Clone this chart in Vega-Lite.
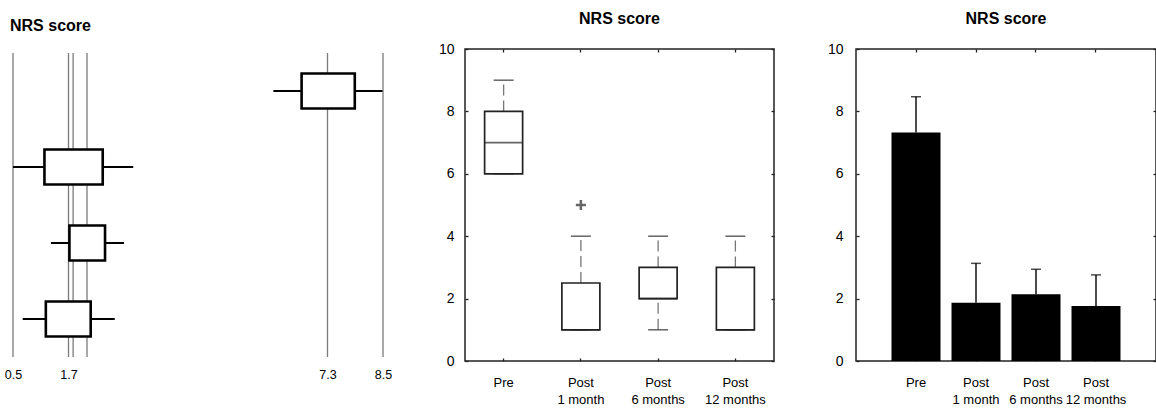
{
  "$schema": "https://vega.github.io/schema/vega-lite/v6.json",
  "background": "white",
  "padding": {"left": 4, "top": 10, "right": 0, "bottom": 0},
  "bounds": "flush",
  "spacing": 82,
  "config": {
    "font": "Liberation Sans, sans-serif",
    "view": {"stroke": null},
    "axis": {
      "labelFont": "Liberation Sans, sans-serif",
      "labelFontSize": 12,
      "labelColor": "#000",
      "grid": false,
      "domain": false,
      "tickColor": "#222",
      "tickWidth": 1.3,
      "title": null
    },
    "title": {
      "font": "Liberation Sans, sans-serif",
      "fontSize": 16,
      "fontWeight": "bold",
      "color": "#000"
    }
  },
  "datasets": {
    "refLines": [
      {"value": 0.5}, {"value": 1.7}, {"value": 1.8}, {"value": 2.1}, {"value": 7.3}, {"value": 8.5}
    ],
    "forest": [
      {"group": "Pre", "lo": 6.13, "q1": 6.74, "q3": 7.89, "hi": 8.49},
      {"group": "Post 1 month", "lo": 0.5, "q1": 1.18, "q3": 2.44, "hi": 3.1},
      {"group": "Post 6 months", "lo": 1.32, "q1": 1.72, "q3": 2.49, "hi": 2.9},
      {"group": "Post 12 months", "lo": 0.71, "q1": 1.21, "q3": 2.18, "hi": 2.7}
    ],
    "box": [
      {"group": "Pre", "lo": 6, "q1": 6, "med": 7, "q3": 8, "hi": 9},
      {"group": "Post 1 month", "lo": 1, "q1": 1, "med": 1, "q3": 2.5, "hi": 4},
      {"group": "Post 6 months", "lo": 1, "q1": 2, "med": 2, "q3": 3, "hi": 4},
      {"group": "Post 12 months", "lo": 1, "q1": 1, "med": 1, "q3": 3, "hi": 4}
    ],
    "outliers": [
      {"group": "Post 1 month", "value": 5}
    ],
    "bars": [
      {"group": "Pre", "mean": 7.32, "upper": 8.47},
      {"group": "Post 1 month", "mean": 1.87, "upper": 3.13},
      {"group": "Post 6 months", "mean": 2.14, "upper": 2.94},
      {"group": "Post 12 months", "mean": 1.76, "upper": 2.76}
    ]
  },
  "hconcat": [
    {
      "title": {"text": "NRS score", "anchor": "start", "frame": "group", "dx": -3, "offset": 15},
      "width": 370,
      "height": 312,
      "layer": [
        {
          "data": {"name": "refLines"},
          "mark": {"type": "rule", "color": "#7a7a7a", "strokeWidth": 1.3},
          "encoding": {
            "x": {
              "field": "value", "type": "quantitative",
              "scale": {"domain": [0.5, 8.5], "nice": false, "zero": false},
              "axis": {"values": [0.5, 1.7, 7.3, 8.5], "format": ".1f", "ticks": false, "labelPadding": 7, "labelFontSize": 12.5, "labelFlush": false, "labelOverlap": false}
            },
            "y": {
              "datum": "Pre", "type": "nominal", "bandPosition": 0,
              "scale": {"domain": ["Pre", "Post 1 month", "Post 6 months", "Post 12 months"], "paddingInner": 0, "paddingOuter": 0.0526},
              "axis": null
            },
            "y2": {"datum": "Post 12 months", "bandPosition": 1}
          }
        },
        {
          "data": {"name": "forest"},
          "mark": {"type": "rule", "color": "#000", "strokeWidth": 2.2},
          "encoding": {
            "x": {"field": "lo", "type": "quantitative"},
            "x2": {"field": "hi"},
            "y": {"field": "group", "type": "nominal", "sort": null, "axis": null}
          }
        },
        {
          "data": {"name": "forest"},
          "mark": {"type": "bar", "height": 35, "fill": "white", "stroke": "#000", "strokeWidth": 2.6},
          "encoding": {
            "x": {"field": "q1", "type": "quantitative"},
            "x2": {"field": "q3"},
            "y": {"field": "group", "type": "nominal", "sort": null, "axis": null}
          }
        }
      ]
    },
    {
      "title": {"text": "NRS score", "offset": 15},
      "width": 309,
      "height": 312,
      "view": {"stroke": "#222", "strokeWidth": 1.5},
      "data": {"name": "box"},
      "resolve": {"axis": {"x": "independent", "y": "independent"}},
      "layer": [
        {
          "mark": {"type": "rule", "color": "#777", "strokeWidth": 1.3, "strokeDash": [11, 5]},
          "encoding": {
            "x": {
              "field": "group", "type": "nominal", "sort": null,
              "scale": {"domain": ["Pre", "Post 1 month", "Post 6 months", "Post 12 months"], "paddingInner": 0, "paddingOuter": 0},
              "axis": {"orient": "bottom", "labelAngle": 0, "tickSize": -3, "labelPadding": 18, "labelLineHeight": 17, "labelFontSize": 13,
                       "labelExpr": "datum.value == 'Pre' ? 'Pre' : ['Post', replace(datum.value, 'Post ', '')]"}
            },
            "y": {
              "field": "q3", "type": "quantitative",
              "scale": {"domain": [0, 10], "nice": false},
              "axis": {"orient": "left", "values": [0, 2, 4, 6, 8, 10], "tickSize": -3, "labelPadding": 14, "labelFontSize": 14}
            },
            "y2": {"field": "hi"}
          }
        },
        {
          "mark": {"type": "rule", "color": "#777", "strokeWidth": 1.3, "strokeDash": [11, 5]},
          "encoding": {
            "x": {"field": "group", "type": "nominal", "sort": null,
                  "axis": {"orient": "top", "labels": false, "tickSize": -3}},
            "y": {"field": "lo", "type": "quantitative",
                  "axis": {"orient": "right", "labels": false, "values": [0, 2, 4, 6, 8, 10], "tickSize": -3}},
            "y2": {"field": "q1"}
          }
        },
        {
          "mark": {"type": "bar", "width": 38, "fill": "white", "stroke": "#222", "strokeWidth": 1.7},
          "encoding": {
            "x": {"field": "group", "type": "nominal", "sort": null, "axis": null},
            "y": {"field": "q1", "type": "quantitative", "axis": null},
            "y2": {"field": "q3"}
          }
        },
        {
          "mark": {"type": "tick", "size": 38, "thickness": 1.6, "color": "#222"},
          "encoding": {
            "x": {"field": "group", "type": "nominal", "sort": null, "axis": null},
            "y": {"field": "med", "type": "quantitative", "axis": null}
          }
        },
        {
          "mark": {"type": "tick", "size": 20, "thickness": 1.5, "color": "#222"},
          "encoding": {
            "x": {"field": "group", "type": "nominal", "sort": null, "axis": null},
            "y": {"field": "hi", "type": "quantitative", "axis": null}
          }
        },
        {
          "mark": {"type": "tick", "size": 20, "thickness": 1.5, "color": "#222"},
          "encoding": {
            "x": {"field": "group", "type": "nominal", "sort": null, "axis": null},
            "y": {"field": "lo", "type": "quantitative", "axis": null}
          }
        },
        {
          "data": {"name": "outliers"},
          "mark": {"type": "point", "shape": "M-1,0L1,0M0,-1L0,1", "filled": false, "stroke": "#666", "strokeWidth": 2.5, "size": 100, "opacity": 1},
          "encoding": {
            "x": {"field": "group", "type": "nominal", "sort": null, "axis": null},
            "y": {"field": "value", "type": "quantitative", "axis": null}
          }
        }
      ]
    },
    {
      "title": {"text": "NRS score", "offset": 15},
      "width": 300,
      "height": 312,
      "view": {"stroke": "#222", "strokeWidth": 1.5},
      "data": {"name": "bars"},
      "resolve": {"axis": {"x": "independent", "y": "independent"}},
      "layer": [
        {
          "mark": {"type": "bar", "color": "#000"},
          "encoding": {
            "x": {
              "field": "group", "type": "nominal", "sort": null,
              "scale": {"domain": ["Pre", "Post 1 month", "Post 6 months", "Post 12 months"], "paddingInner": 0.1833, "paddingOuter": 0.5917},
              "axis": {"orient": "bottom", "labelAngle": 0, "tickSize": -3, "labelPadding": 18, "labelLineHeight": 17, "labelFontSize": 13,
                       "labelExpr": "datum.value == 'Pre' ? 'Pre' : ['Post', replace(datum.value, 'Post ', '')]"}
            },
            "y": {
              "field": "mean", "type": "quantitative",
              "scale": {"domain": [0, 10], "nice": false},
              "axis": {"orient": "left", "values": [0, 2, 4, 6, 8, 10], "tickSize": -3, "labelPadding": 16, "labelFontSize": 14}
            }
          }
        },
        {
          "mark": {"type": "rule", "color": "#000", "strokeWidth": 1.4},
          "encoding": {
            "x": {"field": "group", "type": "nominal", "sort": null,
                  "axis": {"orient": "top", "labels": false, "tickSize": -3}},
            "y": {"field": "mean", "type": "quantitative",
                  "axis": {"orient": "right", "labels": false, "values": [0, 2, 4, 6, 8, 10], "tickSize": -3}},
            "y2": {"field": "upper"}
          }
        },
        {
          "mark": {"type": "tick", "size": 10, "thickness": 1.5, "color": "#000"},
          "encoding": {
            "x": {"field": "group", "type": "nominal", "sort": null, "axis": null},
            "y": {"field": "upper", "type": "quantitative", "axis": null}
          }
        }
      ]
    }
  ]
}
